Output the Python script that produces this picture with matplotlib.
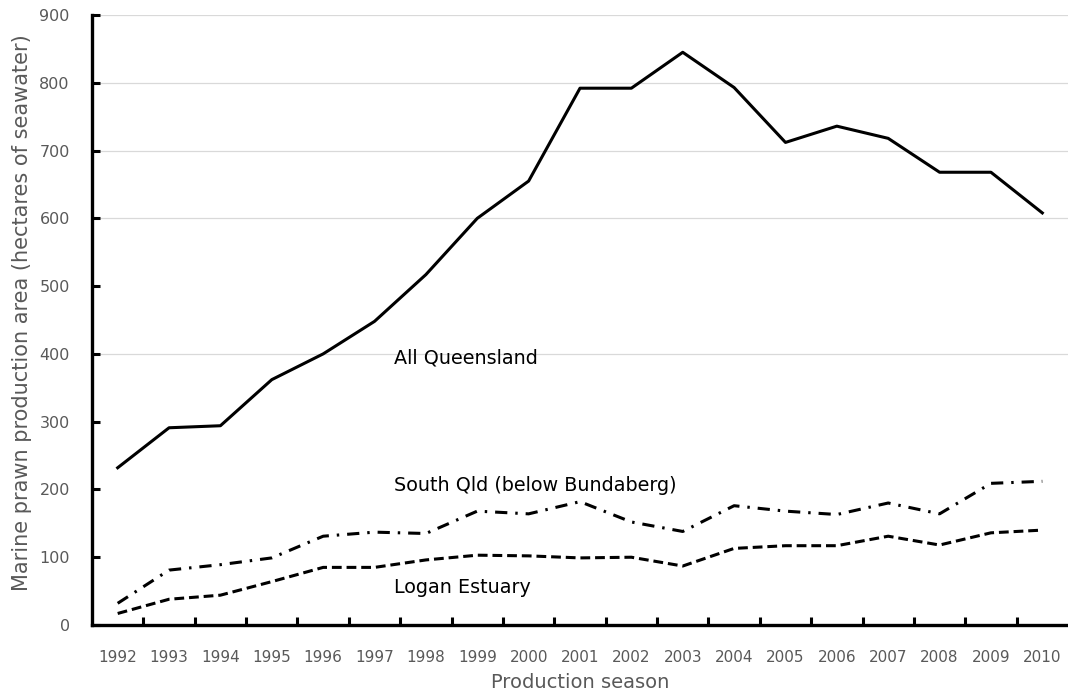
import matplotlib
matplotlib.use("Agg")
import matplotlib.pyplot as plt
import numpy as np

seasons = [str(y) for y in range(1992, 2011)]
all_qld = [232, 291, 294, 362, 400, 448, 517, 600, 655, 792, 792, 845, 793, 712, 736, 718, 668, 668, 608]
south_qld = [32, 81, 89, 99, 131, 137, 135, 168, 164, 182, 152, 138, 176, 168, 163, 180, 164, 209, 212]
logan = [17, 38, 44, 64, 85, 85, 96, 103, 102, 99, 100, 87, 113, 117, 117, 131, 118, 136, 140]
y_ticks = [0, 100, 200, 300, 400, 500, 600, 700, 800, 900]
grid_levels = [400, 600, 700, 800, 900]

plt.rcParams['font.family'] = ['DejaVu Sans']
fig = plt.figure(figsize=(10.68, 6.94), dpi=100)
ax = fig.add_axes([92/1068, 69/694, 976/1068, 610/694])

x = np.arange(len(seasons))
for g in grid_levels:
    ax.axhline(g, color='#d9d9d9', lw=0.9, zorder=0)

ax.plot(x, all_qld, color='black', lw=2.2, solid_joinstyle='round')
ax.plot(x, south_qld, color='black', lw=2.2, linestyle=(0, (4, 2.6, 0.8, 2.6)))
ax.plot(x, logan, color='black', lw=2.2, linestyle=(0, (3.2, 1.6)))

ax.text(5.38, 394, 'All Queensland', fontsize=13.8, ha='left', va='center')
ax.text(5.38, 206, 'South Qld (below Bundaberg)', fontsize=13.8, ha='left', va='center')
ax.text(5.38, 56, 'Logan Estuary', fontsize=13.8, ha='left', va='center')

ax.set_xlim(-0.5, len(seasons) - 0.5)
ax.set_ylim(0, 900)
ax.set_yticks(y_ticks)
ax.set_yticklabels([str(v) for v in y_ticks])
ax.set_xticks(x)
ax.set_xticklabels(seasons)
ax.set_xticks(np.arange(0.5, len(seasons) - 1, 1.0), minor=True)

for s in ['top', 'right']:
    ax.spines[s].set_visible(False)
for s in ['left', 'bottom']:
    ax.spines[s].set_linewidth(2.4)
    ax.spines[s].set_color('black')

ax.tick_params(axis='x', which='major', length=0, pad=18, labelsize=11, labelcolor='#595959')
ax.tick_params(axis='x', which='minor', direction='in', length=6, width=2.2, color='black')
ax.tick_params(axis='y', direction='in', length=6, width=2.2, color='black', pad=16,
               labelsize=11.5, labelcolor='#595959')

ax.set_xlabel('Production season', fontsize=14, color='#595959')
ax.xaxis.set_label_coords((580 - 92) / 976, (625 - 683) / 610)
ax.xaxis.label.set_va('center')
ax.set_ylabel('Marine prawn production area (hectares of seawater)', fontsize=15,
              color='#595959')
ax.yaxis.set_label_coords((22 - 92) / 976, (625 - 313) / 610)
ax.yaxis.label.set_va('center')

fig.savefig('out.png', dpi=100)
